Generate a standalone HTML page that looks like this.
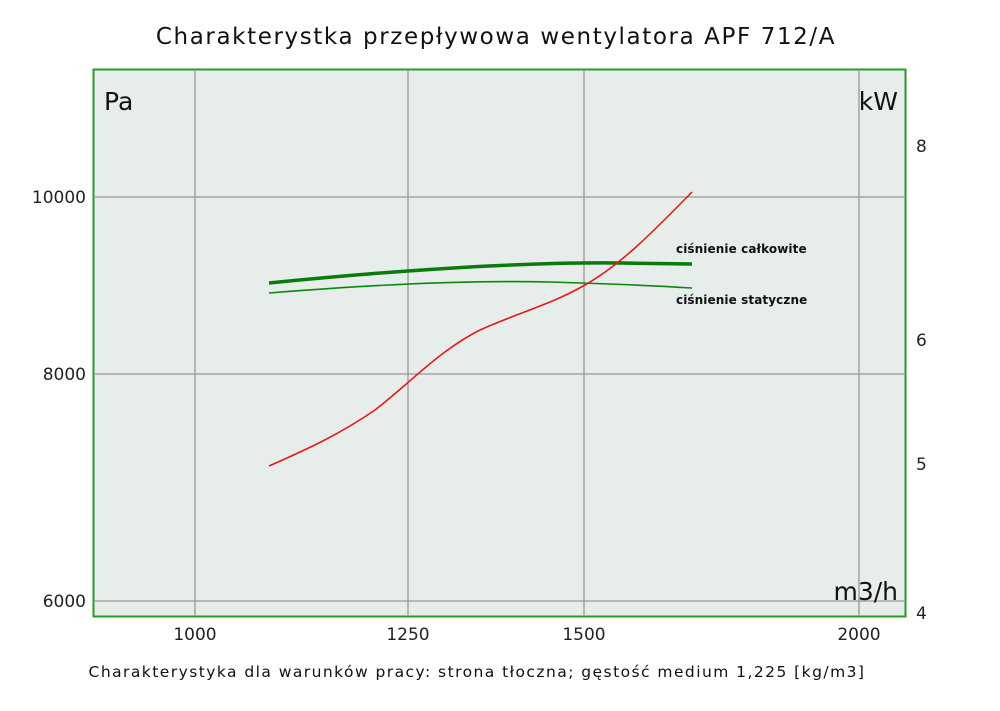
<!DOCTYPE html>
<html><head><style>
body{margin:0;background:#fff;}
svg text{font-family:"DejaVu Sans","Liberation Sans",sans-serif;}
</style></head><body>
<svg width="1000" height="706" xmlns="http://www.w3.org/2000/svg">
<rect width="1000" height="706" fill="#fff"/>
<text x="496" y="44" font-size="23" text-anchor="middle" fill="#111" letter-spacing="1.6">Charakterystka przepływowa wentylatora APF 712/A</text>
<rect x="93.5" y="69.5" width="812" height="547" fill="#e7edea" stroke="#2a9a2a" stroke-width="2"/>
<g stroke="#999" stroke-width="1.3">
<line x1="195" y1="70" x2="195" y2="616"/>
<line x1="408" y1="70" x2="408" y2="616"/>
<line x1="584" y1="70" x2="584" y2="616"/>
<line x1="859" y1="70" x2="859" y2="616"/>
<line x1="94" y1="197" x2="905" y2="197"/>
<line x1="94" y1="374" x2="905" y2="374"/>
<line x1="94" y1="601" x2="905" y2="601"/>
</g>
<text x="104" y="110" font-size="25" fill="#111">Pa</text>
<text x="898" y="110" font-size="25" fill="#111" text-anchor="end">kW</text>
<text x="898" y="600" font-size="25" fill="#111" text-anchor="end">m3/h</text>
<g font-size="17" fill="#222">
<text x="86" y="203" text-anchor="end">10000</text>
<text x="86" y="380" text-anchor="end">8000</text>
<text x="86" y="607" text-anchor="end">6000</text>
<text x="195" y="640" text-anchor="middle">1000</text>
<text x="408" y="640" text-anchor="middle">1250</text>
<text x="584" y="640" text-anchor="middle">1500</text>
<text x="859" y="640" text-anchor="middle">2000</text>
<text x="916" y="152">8</text>
<text x="916" y="346">6</text>
<text x="916" y="470">5</text>
<text x="916" y="619">4</text>
</g>
<path d="M269,283 C400,270 520,262 620,263 L692,264" fill="none" stroke="#0a7a0a" stroke-width="3.5"/>
<path d="M269,293 C380,284 470,280 550,282 C620,284 660,286 692,288" fill="none" stroke="#0a8a0a" stroke-width="1.6"/>
<path d="M269,466 C310,448 340,434 375,410 C410,383 440,350 480,330 C520,312 550,305 585,285 C620,265 650,235 692,192" fill="none" stroke="#e81818" stroke-width="1.6"/>
<g font-size="12" font-weight="bold" fill="#111" letter-spacing="0.1">
<text x="676" y="253">ciśnienie całkowite</text>
<text x="676" y="304">ciśnienie statyczne</text>
</g>
<text x="477" y="677" font-size="15.5" fill="#111" text-anchor="middle" letter-spacing="1.45">Charakterystyka dla warunków pracy: strona tłoczna; gęstość medium 1,225 [kg/m3]</text>
</svg>
</body></html>
